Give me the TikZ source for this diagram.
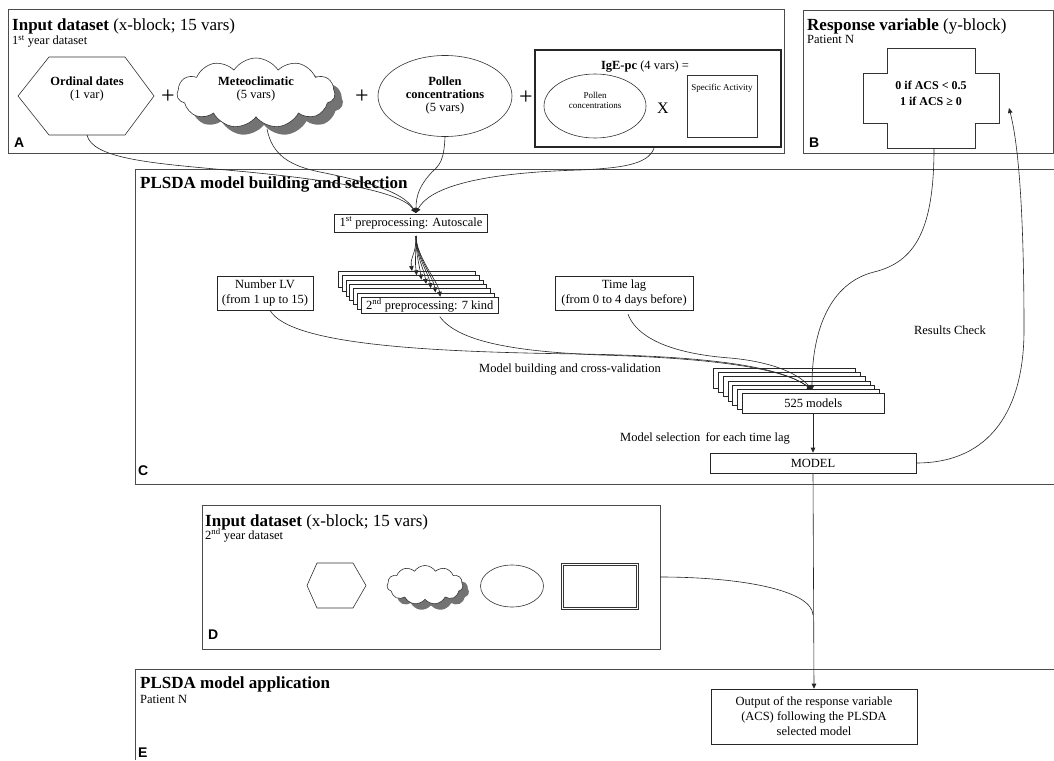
\documentclass[tikz,border=0pt]{standalone}
\usepackage{fontspec}
\setmainfont{Liberation Serif}
\newfontfamily\lblsans{Liberation Sans}
\usetikzlibrary{shapes.geometric,shapes.symbols,shadows,arrows.meta}
\begin{document}
\begin{tikzpicture}[x=1pt,y=-1pt,
  frame/.style={draw=black!70,line width=0.9pt},
  shp/.style={draw=black!80,line width=0.6pt,fill=white},
  ln/.style={draw=black!85,line width=0.6pt},
  arr/.style={ln,-{Triangle[length=5pt,width=4.5pt]}},
  box/.style={draw=black!85,line width=0.6pt,fill=white,inner sep=1pt,align=center,font=\fontsize{12.5}{15}\selectfont},
  txt/.style={inner sep=0pt,align=center,font=\fontsize{12.5}{13}\selectfont},
  small/.style={inner sep=0pt,align=center,font=\fontsize{9}{10}\selectfont},
  ttl/.style={anchor=base west,inner sep=0pt,font=\fontsize{17}{20}\selectfont},
  subt/.style={anchor=base west,inner sep=0pt,font=\fontsize{12.5}{14}\selectfont},
  lett/.style={anchor=base west,inner sep=0pt,font=\lblsans\bfseries\fontsize{14}{16}\selectfont},
  plus/.style={inner sep=0pt,font=\fontsize{24}{24}\selectfont},
  cloudS/.style={cloud,cloud puffs=11,cloud puff arc=115,cloud ignores aspect,draw=black!80,line width=0.6pt,fill=white,inner sep=0pt},
  shad/.style={drop shadow={shadow xshift=#1,shadow yshift=-#1,fill=black!55,opacity=1}},
]
\useasboundingbox (0,0) rectangle (1054,760);
\fill[white] (0,0) rectangle (1054,760);

% ---------- A ----------
\draw[frame] (8,9) rectangle (784,153);
\node[ttl] (tA) at (12,31) {\textbf{Input dataset} (x-block; 15 vars)};
\node[subt] (sA) at (12,45) {1\textsuperscript{st} year dataset};
\node[lett] (lA) at (14,147) {A};

\draw[shp] (18,96) -- (49,57) -- (125,57) -- (154,96) -- (125,135) -- (49,135) -- cycle;
\coordinate (hexA) at (87,135);
\node[txt] (hexAt) at (87,89) {\textbf{Ordinal dates}\\(1 var)};
\node[plus] (p1) at (168,97) {+};

\node[cloudS,shad=8pt,minimum width=158pt,minimum height=70pt] (cloudA) at (256,93) {};
\node[txt] (cloudAt) at (256,89) {\textbf{Meteoclimatic}\\(5 vars)};
\coordinate (cloudAb) at (267,129);
\node[plus] (p2) at (362,97) {+};

\node[shp,ellipse,minimum width=134pt,minimum height=81pt] (ellA) at (445,96) {};
\node[txt] (ellAt) at (445,95) {\textbf{Pollen}\\\textbf{concentrations}\\(5 vars)};
\node[plus] (p3) at (526,98) {+};

\node[draw=black!85,line width=2.4pt,minimum width=246pt,minimum height=97pt,inner sep=0pt] (ige) at (658,98.5) {};
\node[txt] (iget) at (645,67) {\textbf{IgE-pc} (4 vars) =};
\node[shp,ellipse,minimum width=102pt,minimum height=64pt] (ellI) at (595,106) {};
\node[small] (ellIt) at (595,100) {Pollen\\concentrations};
\node[inner sep=0pt,font=\fontsize{16}{16}\selectfont] (xx) at (663,108) {X};
\node[shp,minimum width=70pt,minimum height=62pt,inner sep=0pt] (spa) at (722,106) {};
\node[small] (spat) at (722,88) {Specific Activity};

% ---------- B ----------
\draw[frame] (803,10) rectangle (1053,153);
\node[ttl] (tB) at (807,31) {\textbf{Response variable} (y-block)};
\node[subt] (sB) at (807,44) {Patient N};
\node[lett] (lB) at (809,147) {B};
\draw[shp] (887,48) -- (975,48) -- (975,73) -- (999,73) -- (999,123) -- (975,123) -- (975,148) -- (887,148) -- (887,123) -- (863,123) -- (863,73) -- (887,73) -- cycle;
\node[inner sep=0pt,align=center,font=\bfseries\fontsize{12}{16}\selectfont] (crt) at (931,93) {0 if ACS < 0.5\\1 if ACS ≥ 0};
\coordinate (crossBot) at (934,148);
\coordinate (crossR) at (1009,108);

% ---------- C ----------
\draw[frame] (1054,169) -- (135,169) -- (135,484) -- (1054,484);
\node[ttl] (tC) at (140,188) {\textbf{PLSDA model building and selection}};
\node[lett] (lC) at (138,475) {C};

\node[box,minimum width=153pt,minimum height=18pt] (auto) at (411,223) {1\textsuperscript{st} preprocessing: Autoscale};
\coordinate (autoIn) at (416,213);
\coordinate (fanS) at (416,236);

\foreach \i in {0,...,5}
  \node[box,anchor=north west,minimum width=137pt,minimum height=16pt] (pp\i) at ({338+3.83*\i},{271+4.33*\i}) {};
\node[box,anchor=north west,minimum width=137pt,minimum height=16pt] (pp6) at (361,297) {2\textsuperscript{nd} preprocessing: 7 kind};

\node[box,minimum width=96pt,minimum height=34pt] (nlv) at (265,293) {Number LV\\(from 1 up to 15)};
\node[box,minimum width=138pt,minimum height=34pt] (tlag) at (624,293) {Time lag\\(from 0 to 4 days before)};

\foreach \i in {0,...,5}
  \node[box,anchor=north west,minimum width=142pt,minimum height=20pt] (m\i) at ({713+4.83*\i},{368+4.17*\i}) {};
\node[box,anchor=north west,minimum width=142pt,minimum height=20pt] (m6) at (742,393) {525 models};
\coordinate (mIn) at (812,390);

\node[box,minimum width=206pt,minimum height=20pt] (model) at (813,463) {MODEL};

\node[txt] (lbl1) at (570,370) {Model building and cross-validation};
\node[txt] (lbl2) at (705,438) {Model selection\, for each time lag};
\node[txt] (lbl3) at (950,330) {Results Check};

% connectors A -> autoscale
\draw[arr] (hexA) .. controls (92,158) and (150,163) .. (215,169) .. controls (320,178) and (400,190) .. (autoIn);
\draw[arr] (cloudAb) .. controls (272,155) and (290,166) .. (320,172) .. controls (380,184) and (405,195) .. (autoIn);
\draw[arr] (ellA.south) .. controls (444,160) and (440,165) .. (432,172) .. controls (420,185) and (416,195) .. (autoIn);
\draw[arr] (ige.south) ++(-4,0) .. controls (648,165) and (620,168) .. (580,170) .. controls (470,173) and (428,190) .. (autoIn);

% fan
\foreach \i in {0,...,6}
  \draw[arr] (fanS) .. controls (416,256) and ({410+4.7*\i},{256+4.3*\i}) .. ({412+4.7*\i},{271+4.3*\i});

% to 525 models
\draw[arr] (nlv.south) ++(5,0) .. controls (290,345) and (430,352) .. (580,354) .. controls (700,356) and (780,365) .. (mIn);
\draw[arr] (pp6.south) ++(10,3) .. controls (460,345) and (530,352) .. (600,355) .. controls (710,358) and (785,368) .. (mIn);
\draw[arr] (tlag.south) ++(4,4) .. controls (640,345) and (690,355) .. (730,358) .. controls (775,362) and (800,375) .. (mIn);
\draw[arr] (crossBot) .. controls (934,230) and (915,262) .. (874,272) .. controls (830,283) and (812,330) .. (mIn);

\draw[arr] (m6.south -| model.north) -- (model.north);
\draw[arr] (model.east) .. controls (990,463) and (1024,410) .. (1024,330) .. controls (1024,230) and (1020,150) .. (crossR);

% ---------- D ----------
\draw[frame] (202,505) rectangle (660,649);
\node[ttl] (tD) at (205,526) {\textbf{Input dataset} (x-block; 15 vars)};
\node[subt] (sD) at (205,539) {2\textsuperscript{nd} year dataset};
\node[lett] (lD) at (208,639) {D};
\draw[shp] (307,585.5) -- (317,563) -- (353,563) -- (366,585.5) -- (353,608) -- (317,608) -- cycle;
\node[cloudS,shad=6pt,minimum width=76pt,minimum height=39pt] (cloudD) at (425,585) {};
\node[shp,ellipse,minimum width=63pt,minimum height=42pt] (ellD) at (512,586) {};
\node[draw=black!80,double,double distance=1.6pt,line width=0.6pt,minimum width=75pt,minimum height=44pt,inner sep=0pt] (recD) at (600,586.5) {};
\coordinate (dR) at (660,577);
\coordinate (dJ) at (813,615);

% ---------- E ----------
\draw[frame] (1054,669) -- (135,669) -- (135,760);
\node[ttl] (tE) at (140,688) {\textbf{PLSDA model application}};
\node[subt] (sE) at (140,703) {Patient N};
\node[lett] (lE) at (138,757) {E};
\node[box,minimum width=206pt,minimum height=55pt] (out) at (814,716.5) {Output of the response variable\\(ACS) following the PLSDA\\selected model};

\draw[arr] (model.south) -- (out.north);
\draw[ln] (dR) .. controls (740,577) and (812,590) .. (dJ);
\end{tikzpicture}
\end{document}
